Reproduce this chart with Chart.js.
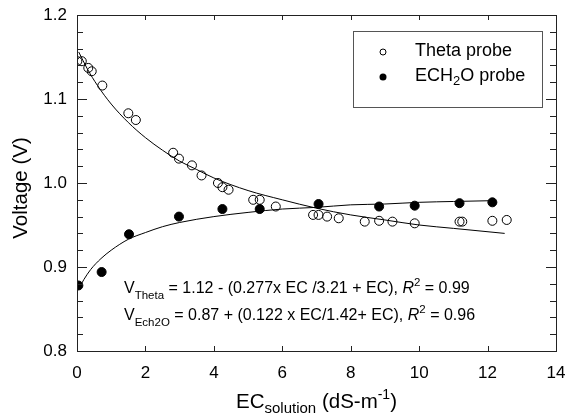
<!DOCTYPE html>
<html>
<head>
<meta charset="utf-8">
<script src="https://cdn.jsdelivr.net/npm/chart.js@4"></script>
<style>
  html, body { margin: 0; padding: 0; background: #fff; }
  #wrap { width: 568px; height: 418px; }
</style>
</head>
<body>
<div id="wrap"><canvas id="chart" width="568" height="418"></canvas></div>
<script>
// Theta probe (open circles)
const thetaEC = [0.01, 0.14, 0.33, 0.43, 0.74, 1.50, 1.72, 2.81, 2.98, 3.36, 3.64, 4.12, 4.25, 4.43,
                 5.15, 5.34, 5.81, 6.90, 7.06, 7.31, 7.65, 8.41, 8.83, 9.22, 9.87, 11.18, 11.26, 12.14, 12.56];
const thetaV  = [1.145, 1.145, 1.137, 1.133, 1.116, 1.083, 1.075, 1.036, 1.029, 1.021, 1.009, 1.000, 0.995, 0.992,
                 0.980, 0.980, 0.972, 0.962, 0.962, 0.960, 0.958, 0.954, 0.955, 0.954, 0.952, 0.954, 0.954, 0.955, 0.956];

// ECH2O probe (filled circles)
const echEC = [0.04, 0.72, 1.52, 2.98, 4.25, 5.34, 7.06, 8.83, 9.87, 11.18, 12.14];
const echV  = [0.878, 0.894, 0.939, 0.960, 0.969, 0.969, 0.975, 0.972, 0.973, 0.976, 0.977];

// fitted curves
const thetaFitEC = [0.05, 0.3, 0.6, 1, 1.5, 2, 2.5, 3, 3.5, 4, 5, 6, 7, 8, 9, 10, 11, 12.5];
const thetaFitV  = [1.156, 1.136, 1.116, 1.094, 1.072, 1.054, 1.039, 1.026, 1.016, 1.006, 0.991, 0.980, 0.970, 0.962, 0.956, 0.950, 0.946, 0.940];
const echFitEC = [0.05, 0.2, 0.4, 0.7, 1, 1.5, 2, 2.5, 3, 4, 5, 6, 7, 8, 9, 10, 11, 12.2];
const echFitV  = [0.874, 0.885, 0.897, 0.910, 0.920, 0.933, 0.941, 0.948, 0.953, 0.960, 0.965, 0.969, 0.971, 0.974, 0.975, 0.977, 0.978, 0.979];

const xTicks = [0, 2, 4, 6, 8, 10, 12, 14];
const yTicks = [0.8, 0.9, 1.0, 1.1, 1.2];
const yMinorStep = 0.02;

const FONT = '"Liberation Sans", Arial, sans-serif';

function pts(xs, ys) {
    return xs.map((x, i) => ({ x: x, y: ys[i] }));
}

// draws text made of pieces: [text, size, dy, italic]
function drawPieces(ctx, x, y, pieces) {
    pieces.forEach(p => {
        ctx.font = (p[3] ? 'italic ' : '') + p[1] + 'px ' + FONT;
        ctx.fillText(p[0], x, y + p[2]);
        x += ctx.measureText(p[0]).width;
    });
    return x;
}

function piecesWidth(ctx, pieces) {
    let w = 0;
    pieces.forEach(p => {
        ctx.font = (p[3] ? 'italic ' : '') + p[1] + 'px ' + FONT;
        w += ctx.measureText(p[0]).width;
    });
    return w;
}

const decorPlugin = {
    id: 'decor',
    afterDraw(chart) {
        const ctx = chart.ctx;
        const a = chart.chartArea;
        const xs = chart.scales.x, ys = chart.scales.y;
        ctx.save();
        ctx.strokeStyle = '#222';
        ctx.fillStyle = '#000';
        ctx.lineWidth = 1;

        // frame
        ctx.strokeRect(a.left + 0.5, a.top + 0.5, a.right - a.left, a.bottom - a.top);

        // inward ticks
        ctx.beginPath();
        xTicks.forEach(v => {
            const px = Math.round(xs.getPixelForValue(v)) + 0.5;
            ctx.moveTo(px, a.bottom); ctx.lineTo(px, a.bottom - 5);
            ctx.moveTo(px, a.top); ctx.lineTo(px, a.top + 5);
        });
        for (let v = ys.min; v <= ys.max + 1e-9; v += yMinorStep) {
            const major = yTicks.some(t => Math.abs(t - v) < 1e-6);
            const len = major ? 10 : 6;
            const py = Math.round(ys.getPixelForValue(v)) + 0.5;
            ctx.moveTo(a.left, py); ctx.lineTo(a.left + len, py);
            ctx.moveTo(a.right, py); ctx.lineTo(a.right - len, py);
        }
        ctx.stroke();

        // tick labels
        ctx.font = '17px ' + FONT;
        ctx.textAlign = 'center';
        ctx.textBaseline = 'middle';
        xTicks.forEach(v => ctx.fillText(String(v), xs.getPixelForValue(v), a.bottom + 22));
        ctx.textAlign = 'right';
        yTicks.forEach(v => ctx.fillText(v.toFixed(1), a.left - 10, ys.getPixelForValue(v)));

        // axis titles
        ctx.textAlign = 'left';
        ctx.textBaseline = 'alphabetic';
        const xt = [['EC', 20.5, 0], ['solution', 15, 5], [' (dS-m', 20.5, 0], ['-1', 14, -9], [')', 20.5, 0]];
        const xw = piecesWidth(ctx, xt);
        drawPieces(ctx, (a.left + a.right) / 2 - xw / 2, 408, xt);

        ctx.save();
        ctx.translate(27, 188);
        ctx.rotate(-Math.PI / 2);
        ctx.font = '20.5px ' + FONT;
        ctx.textAlign = 'center';
        ctx.fillText('Voltage (V)', 0, 0);
        ctx.restore();

        // equations
        ctx.textAlign = 'left';
        drawPieces(ctx, 124, 293, [['V', 16, 0], ['Theta', 11.5, 6], [' = 1.12 - (0.277x EC /3.21 + EC), ', 16, 0],
                                   ['R', 16, 0, true], ['2', 11.5, -7], [' = 0.99', 16, 0]]);
        drawPieces(ctx, 124, 320, [['V', 16, 0], ['Ech2O', 11.5, 6], [' = 0.87 + (0.122 x EC/1.42+ EC), ', 16, 0],
                                   ['R', 16, 0, true], ['2', 11.5, -7], [' = 0.96', 16, 0]]);

        // legend
        ctx.strokeStyle = '#555';
        ctx.strokeRect(353.5, 31.5, 189, 76);
        ctx.strokeStyle = '#000';
        ctx.beginPath();
        ctx.arc(383, 52, 3, 0, Math.PI * 2);
        ctx.stroke();
        ctx.beginPath();
        ctx.arc(383, 77, 3.5, 0, Math.PI * 2);
        ctx.fill();
        ctx.textBaseline = 'middle';
        drawPieces(ctx, 415, 51, [['Theta probe', 18, 0]]);
        drawPieces(ctx, 415, 76, [['ECH', 18, 0], ['2', 13, 5], ['O probe', 18, 0]]);
        ctx.restore();
    }
};

new Chart(document.getElementById('chart'), {
    type: 'scatter',
    data: {
        datasets: [
            {
                label: 'Theta fit',
                data: pts(thetaFitEC, thetaFitV),
                showLine: true,
                borderColor: '#000',
                borderWidth: 1,
                pointRadius: 0,
                cubicInterpolationMode: 'monotone'
            },
            {
                label: 'ECH2O fit',
                data: pts(echFitEC, echFitV),
                showLine: true,
                borderColor: '#000',
                borderWidth: 1,
                pointRadius: 0,
                cubicInterpolationMode: 'monotone'
            },
            {
                label: 'Theta probe',
                data: pts(thetaEC, thetaV),
                pointRadius: 4.5,
                pointBorderWidth: 1,
                borderColor: '#000',
                backgroundColor: 'rgba(255,255,255,0)'
            },
            {
                label: 'ECH2O probe',
                data: pts(echEC, echV),
                pointRadius: 4.5,
                pointBorderWidth: 1,
                borderColor: '#000',
                backgroundColor: '#000'
            }
        ]
    },
    options: {
        responsive: false,
        animation: false,
        layout: { padding: { left: 77, top: 15, right: 12, bottom: 67 } },
        plugins: {
            legend: { display: false },
            tooltip: { enabled: false }
        },
        scales: {
            x: { type: 'linear', min: 0, max: 14, display: false },
            y: { type: 'linear', min: 0.8, max: 1.2, display: false }
        }
    },
    plugins: [decorPlugin]
});
</script>
</body>
</html>
